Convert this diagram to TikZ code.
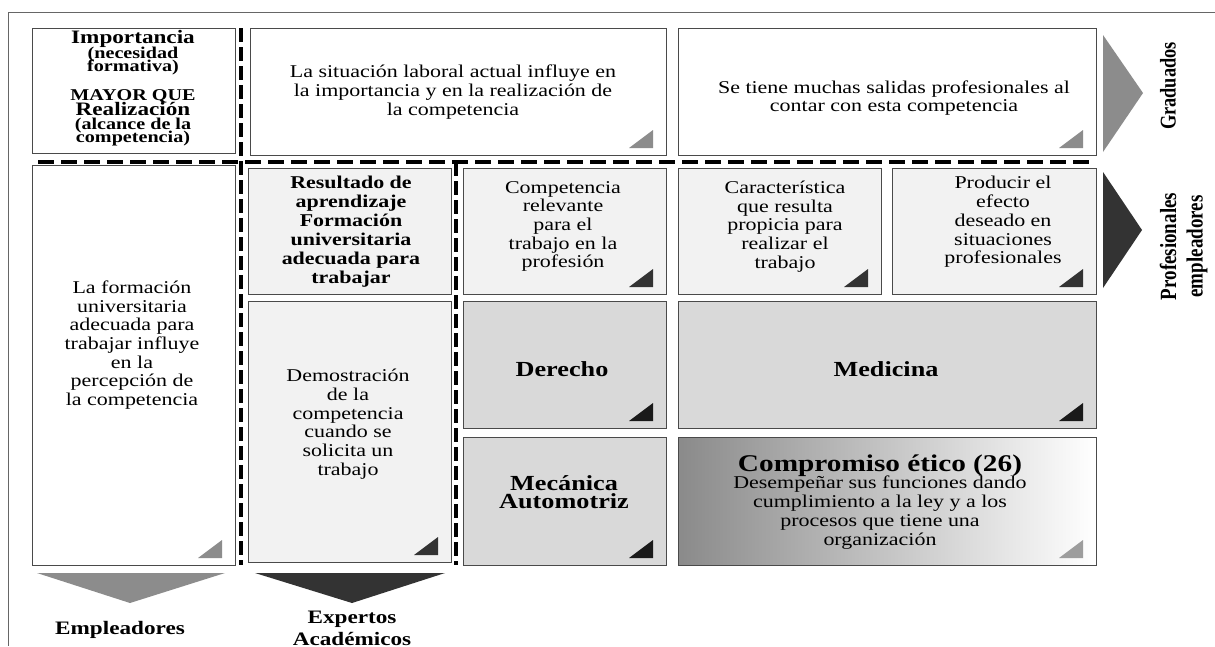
\documentclass[tikz,border=0pt]{standalone}
\usepackage{fontspec}
\usepackage{graphicx}
\setmainfont[FakeStretch=1.22]{Liberation Serif}
\newfontfamily\rotserif{Liberation Serif}
\definecolor{boxline}{HTML}{4A4A4A}
\definecolor{framegray}{HTML}{666666}
\definecolor{filllight}{HTML}{F2F2F2}
\definecolor{fillmid}{HTML}{D9D9D9}
\definecolor{trigray}{HTML}{8C8C8C}
\definecolor{tridark}{HTML}{333333}
\definecolor{triblack}{HTML}{1A1A1A}
\definecolor{shadedark}{HTML}{8A8A8A}
\definecolor{shademid}{HTML}{D0D0D0}
\tikzset{
  cell/.style={draw=boxline, line width=1pt},
  txt/.style={align=center, inner sep=0pt, font=\fontsize{18}{18.7}\selectfont},
  btxt/.style={align=center, inner sep=0pt, font=\fontsize{18}{19}\selectfont\bfseries},
  bigb/.style={align=center, inner sep=0pt, font=\fontsize{21.5}{18}\selectfont\bfseries},
  hdash/.style={line width=4pt, dash pattern=on 16pt off 7pt},
  vdash/.style={line width=3.6pt, dash pattern=on 14pt off 5pt},
}
% small filled triangle in the lower right corner of a cell, (x,y) = cell corner
\newcommand\cornertri[3]{\fill[#3] (#1-37,#2-7) -- (#1-13,#2-7) -- (#1-13,#2-25) -- cycle;}
\begin{document}
\begin{tikzpicture}[x=1pt, y=-1pt]
\useasboundingbox (0,0) rectangle (1215,646);
\fill[white] (0,0) rectangle (1215,646);

% outer frame
\draw[framegray, line width=1pt] (1215,12) -- (8,12) -- (8,646);

% top row
\draw[cell, fill=white] (32,28) rectangle (235,153);
\draw[cell, fill=white] (250,28) rectangle (666,155);
\draw[cell, fill=white] (678,28) rectangle (1096,155);
\cornertri{666}{155}{trigray}
\cornertri{1096}{155}{trigray}

% left column
\draw[cell, fill=white] (32,165) rectangle (235,565);
\cornertri{235}{565}{trigray}

% academic column
\draw[cell, fill=filllight] (248,168) rectangle (451,294);
\draw[cell, fill=filllight] (248,301) rectangle (451,562);
\cornertri{451}{562}{tridark}

% second row
\draw[cell, fill=filllight] (463,168) rectangle (666,294);
\draw[cell, fill=filllight] (678,168) rectangle (881,294);
\draw[cell, fill=filllight] (892,168) rectangle (1096,294);
\cornertri{666}{294}{tridark}
\cornertri{881}{294}{tridark}
\cornertri{1096}{294}{tridark}

% career cells
\draw[cell, fill=fillmid] (463,301) rectangle (666,428);
\draw[cell, fill=fillmid] (678,301) rectangle (1096,428);
\draw[cell, fill=fillmid] (463,437) rectangle (666,565);
\cornertri{666}{428}{triblack}
\cornertri{1096}{428}{triblack}
\cornertri{666}{565}{triblack}

% shaded cell
\shade[left color=shadedark, middle color=shademid, right color=white] (678,437) rectangle (1096,565);
\draw[cell] (678,437) rectangle (1096,565);
\cornertri{1096}{565}{trigray!85}

% dashed separators
\draw[hdash] (38,162) -- (1096,162);
\draw[vdash] (241,28) -- (241,565);
\draw[vdash] (456,162) -- (456,565);

% side arrows
\fill[trigray] (1103,35) -- (1143,93) -- (1103,152) -- cycle;
\fill[tridark] (1103,172) -- (1142,230) -- (1103,288) -- cycle;
% bottom arrows
\fill[trigray] (37,573) -- (225,573) -- (130,603) -- cycle;
\fill[tridark] (255,573) -- (445,573) -- (352,603) -- cycle;

% texts of the first cell
\node[anchor=base, inner sep=0pt, font=\fontsize{19}{19}\selectfont\bfseries] (imp1) at (133,43) {Importancia};
\node[anchor=base, inner sep=0pt, font=\fontsize{16.5}{16}\selectfont\bfseries] (imp2) at (133,58) {(necesidad};
\node[anchor=base, inner sep=0pt, font=\fontsize{16.5}{16}\selectfont\bfseries] (imp3) at (133,71) {formativa)};
\node[anchor=base, inner sep=0pt, font=\fontsize{16.5}{16}\selectfont\bfseries] (imp4) at (133,100.5) {MAYOR QUE};
\node[anchor=base, inner sep=0pt, font=\fontsize{19}{19}\selectfont\bfseries] (imp5) at (133,115) {Realización};
\node[anchor=base, inner sep=0pt, font=\fontsize{16.5}{16}\selectfont\bfseries] (imp6) at (133,129) {(alcance de la};
\node[anchor=base, inner sep=0pt, font=\fontsize{16.5}{16}\selectfont\bfseries] (imp7) at (133,142) {competencia)};

\node[txt] (sit) at (453,92) {La situación laboral actual influye en\\la importancia y en la realización de\\la competencia};
\node[txt] (sal) at (894,98) {Se tiene muchas salidas profesionales al\\contar con esta competencia};

\node[txt] (form) at (132,345) {La formación\\universitaria\\adecuada para\\trabajar influye\\en la\\percepción de\\la competencia};
\node[btxt] (res) at (351,231.5) {Resultado de\\aprendizaje\\Formación\\universitaria\\adecuada para\\trabajar};
\node[txt] (dem) at (348,424) {Demostración\\de la\\competencia\\cuando se\\solicita un\\trabajo};

\node[txt] (rel) at (563,226.5) {Competencia\\relevante\\para el\\trabajo en la\\profesión};
\node[txt] (car) at (785,226.5) {Característica\\que resulta\\propicia para\\realizar el\\trabajo};
\node[txt] (pro) at (1003,222) {Producir el\\efecto\\deseado en\\situaciones\\profesionales};

\node[bigb] (der) at (562,369) {Derecho};
\node[bigb] (med) at (886,369) {Medicina};
\node[bigb] (mec) at (564,492) {Mecánica\\Automotriz};

\node[anchor=base, inner sep=0pt, font=\fontsize{24}{24}\selectfont\bfseries] (eti) at (880,471) {Compromiso ético (26)};
\node[txt, font=\fontsize{18}{19}\selectfont] (des) at (880,513) {Desempeñar sus funciones dando\\cumplimiento a la ley y a los\\procesos que tiene una\\organización};

% group labels
\node[rotate=90, inner sep=0pt, font=\rotserif\fontsize{18.4}{18.4}\selectfont\bfseries] (gra) at (1168,86) {\scalebox{1}[1.22]{Graduados}};
\node[rotate=90, inner sep=0pt, font=\rotserif\fontsize{19}{19}\selectfont\bfseries] (prof) at (1168,246.5) {\scalebox{1}[1.22]{Profesionales}};
\node[rotate=90, inner sep=0pt, font=\rotserif\fontsize{19}{19}\selectfont\bfseries] (empl) at (1197,246.5) {\scalebox{1}[1.22]{empleadores}};

\node[anchor=base, inner sep=0pt, font=\fontsize{19}{19}\selectfont\bfseries] (emp) at (120,634) {Empleadores};
\node[anchor=base, inner sep=0pt, font=\fontsize{19}{19}\selectfont\bfseries] (exp1) at (352,623) {Expertos};
\node[anchor=base, inner sep=0pt, font=\fontsize{19}{19}\selectfont\bfseries] (exp2) at (352,645) {Académicos};
\end{tikzpicture}
\end{document}
